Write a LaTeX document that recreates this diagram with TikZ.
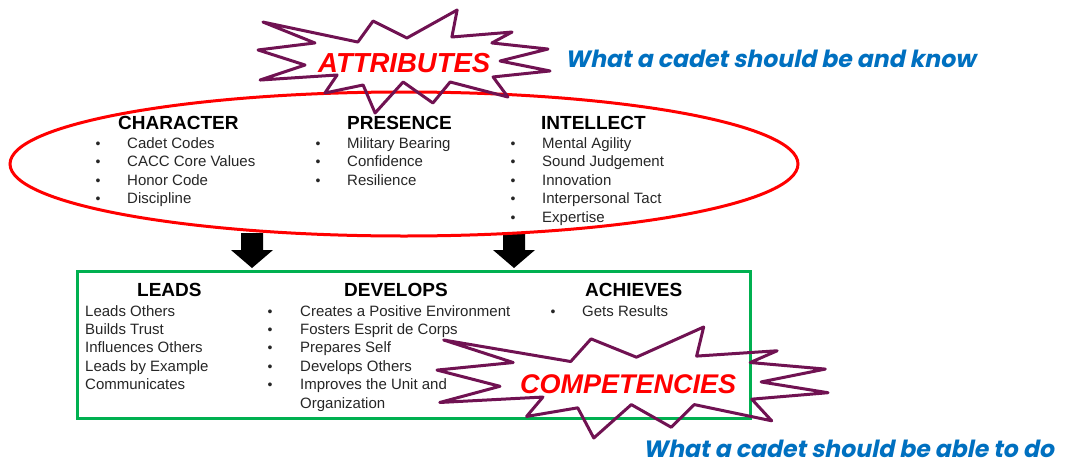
\documentclass[tikz,border=0pt]{standalone}
\usepackage{fontspec}
\setmainfont{Liberation Sans}
\newfontfamily\gothic[FakeSlant=0.2]{Poppins}
\usetikzlibrary{shapes.geometric}
\definecolor{burstcol}{RGB}{112,18,82}
\definecolor{boxgreen}{RGB}{0,176,80}
\definecolor{bluetxt}{RGB}{0,112,192}
\definecolor{txtgray}{RGB}{38,38,38}
\tikzset{
  burstpic/.pic={
    \draw[burstcol, line width=3pt, line join=round]
      (0.017,0.117) -- (0.342,0.311) -- (0.394,0.107) -- (0.510,0.272) --
      (0.682,0.000) -- (0.664,0.262) -- (0.870,0.214) -- (0.801,0.320) --
      (0.993,0.379) -- (0.829,0.495) -- (1.000,0.592) -- (0.805,0.650) --
      (0.856,0.845) -- (0.658,0.699) -- (0.599,0.903) -- (0.497,0.699) --
      (0.401,1.000) -- (0.360,0.728) -- (0.229,0.806) -- (0.271,0.631) --
      (0.007,0.680) -- (0.161,0.534) -- (0.000,0.388) -- (0.195,0.320) -- cycle;
  },
  head/.style={anchor=base west, font=\bfseries\fontsize{19}{21}\selectfont, text=black, inner sep=0pt},
  item/.style={anchor=base west, font=\fontsize{15}{18}\selectfont, text=txtgray, inner sep=0pt},
  bul/.style={anchor=base, font=\fontsize{14}{18}\selectfont, text=txtgray, inner sep=0pt},
  bigred/.style={anchor=base west, font=\bfseries\itshape\fontsize{27.5}{30}\selectfont, text=red, inner sep=0pt},
  blue/.style={anchor=base west, font=\gothic\bfseries\fontsize{23.6}{26}\selectfont, text=bluetxt, inner sep=0pt},
  blockarrow/.style={fill=black, draw=none}
}
\begin{document}
\begin{tikzpicture}[x=1pt, y=-1pt]
\useasboundingbox (0,0) rectangle (1065,466);
% block arrows
\foreach \c/\n in {252/a1, 514/a2} {
  \fill[blockarrow] (\c-11,233) -- (\c+11,233) -- (\c+11,250) -- (\c+21,250) -- (\c,268) -- (\c-21,250) -- (\c-11,250) -- cycle;
}
% ellipse
\node[draw=red, line width=3pt, ellipse, minimum width=788pt, minimum height=144pt, inner sep=0pt] (attrs) at (404,164) {};
% green box
\node[draw=boxgreen, line width=3pt, rectangle, minimum width=673pt, minimum height=147pt, inner sep=0pt] (comps) at (413.5,344.5) {};

% attributes columns
\node[head] (character) at (118,129) {CHARACTER};
\foreach \t [count=\i] in {Cadet Codes, CACC Core Values, Honor Code, Discipline} {
  \node[bul] (cb\i) at (98,{148+18.5*(\i-1)}) {•};
  \node[item] (ci\i) at (127,{148+18.5*(\i-1)}) {\t};
}
\node[head] (presence) at (347,129) {PRESENCE};
\foreach \t [count=\i] in {Military Bearing, Confidence, Resilience} {
  \node[bul] (pb\i) at (318,{148+18.5*(\i-1)}) {•};
  \node[item] (pi\i) at (347,{148+18.5*(\i-1)}) {\t};
}
\node[head] (intellect) at (541,129) {INTELLECT};
\foreach \t [count=\i] in {Mental Agility, Sound Judgement, Innovation, Interpersonal Tact, Expertise} {
  \node[bul] (ib\i) at (513,{148+18.5*(\i-1)}) {•};
  \node[item] (ii\i) at (542,{148+18.5*(\i-1)}) {\t};
}

% competencies columns
\node[head] (leads) at (137,296) {LEADS};
\foreach \t [count=\i] in {Leads Others, Builds Trust, Influences Others, Leads by Example, Communicates} {
  \node[item] (li\i) at (85,{316+18.4*(\i-1)}) {\t};
}
\node[head] (develops) at (344,296) {DEVELOPS};
\foreach \t [count=\i] in {Creates a Positive Environment, Fosters Esprit de Corps, Prepares Self, Develops Others, Improves the Unit and} {
  \node[bul] (db\i) at (270,{316+18.4*(\i-1)}) {•};
  \node[item] (di\i) at (300,{316+18.4*(\i-1)}) {\t};
}
\node[item] (di6) at (300,408) {Organization};
\node[head] (achieves) at (585,296) {ACHIEVES};
\node[bul] (ab1) at (553,316) {•};
\node[item] (ai1) at (582,316) {Gets Results};

% bursts
\pic[shift={(258,10)}, xscale=292, yscale=103] {burstpic};
\node[bigred] (attrtitle) at (318,72) {ATTRIBUTES};
\pic[shift={(437,327)}, xscale=391, yscale=111] {burstpic};
\node[bigred, font=\bfseries\itshape\fontsize{27}{30}\selectfont] (comptitle) at (520,393) {COMPETENCIES};

% blue captions
\node[blue] (cap1) at (565,67) {What a cadet should be and know};
\node[blue] (cap2) at (643,457) {What a cadet should be able to do};
\end{tikzpicture}
\end{document}
